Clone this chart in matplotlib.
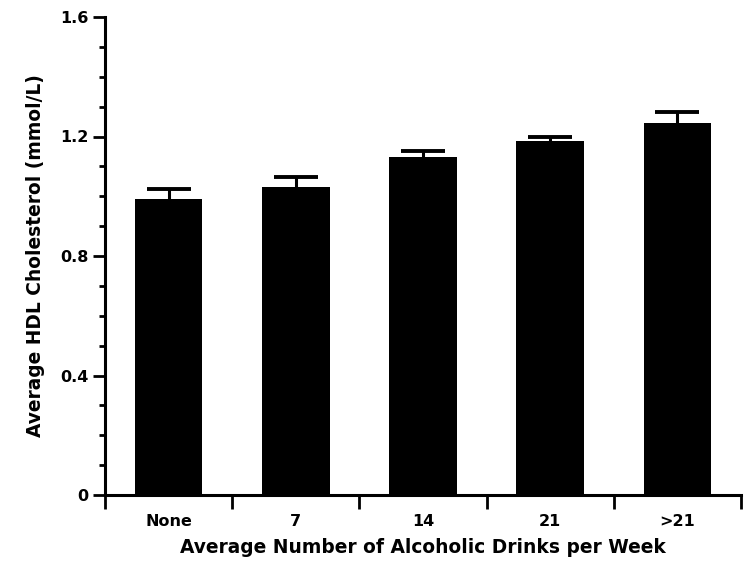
import matplotlib
matplotlib.use("Agg")
import matplotlib.pyplot as plt
from matplotlib.ticker import MultipleLocator

categories = ["None", "7", "14", "21", ">21"]
hdl_mean = [0.99, 1.03, 1.13, 1.185, 1.245]
hdl_err = [0.035, 0.036, 0.022, 0.014, 0.037]
y_ticks = [0, 0.4, 0.8, 1.2, 1.6]
y_tick_labels = ["0", "0.4", "0.8", "1.2", "1.6"]

plt.rcParams["font.family"] = ["DejaVu Sans"]
plt.rcParams["font.weight"] = "bold"

fig = plt.figure(figsize=(7.45, 5.64), dpi=100)
ax = fig.add_axes([105 / 745, 69 / 564, 636 / 745, 478 / 564])

x = list(range(len(categories)))
ax.bar(x, hdl_mean, width=0.53, color="black", zorder=2)
_, caps, _ = ax.errorbar(x, hdl_mean, yerr=[[0] * len(x), hdl_err], fmt="none",
                         ecolor="black", elinewidth=2.2, capsize=15.5,
                         capthick=2.8, zorder=3)
# only the upper half of each error bar is shown
caps[0].set_visible(False)

ax.set_xlim(-0.5, len(categories) - 0.5)
ax.set_ylim(0, 1.6)

for side in ("top", "right"):
    ax.spines[side].set_visible(False)
for side in ("left", "bottom"):
    ax.spines[side].set_linewidth(2.2)

# category labels sit between the boundary tick marks
ax.set_xticks([i - 0.5 for i in range(len(categories) + 1)])
ax.set_xticklabels([])
ax.set_xticks(x, minor=True)
ax.set_xticklabels(categories, minor=True, fontsize=11.5, fontweight="bold")
ax.tick_params(axis="x", which="major", direction="out", length=10, width=2)
ax.tick_params(axis="x", which="minor", length=0, pad=14)

ax.set_yticks(y_ticks)
ax.set_yticklabels(y_tick_labels, fontsize=11.5, fontweight="bold")
ax.yaxis.set_minor_locator(MultipleLocator(0.1))
ax.tick_params(axis="y", which="major", direction="out", length=9, width=2, pad=3)
ax.tick_params(axis="y", which="minor", direction="out", length=4, width=2)

ax.set_xlabel("Average Number of Alcoholic Drinks per Week", fontsize=13.4,
              fontweight="bold", labelpad=6)
ax.set_ylabel("Average HDL Cholesterol (mmol/L)", fontsize=13.4,
              fontweight="bold", labelpad=11)

fig.savefig("out.png", dpi=100)
